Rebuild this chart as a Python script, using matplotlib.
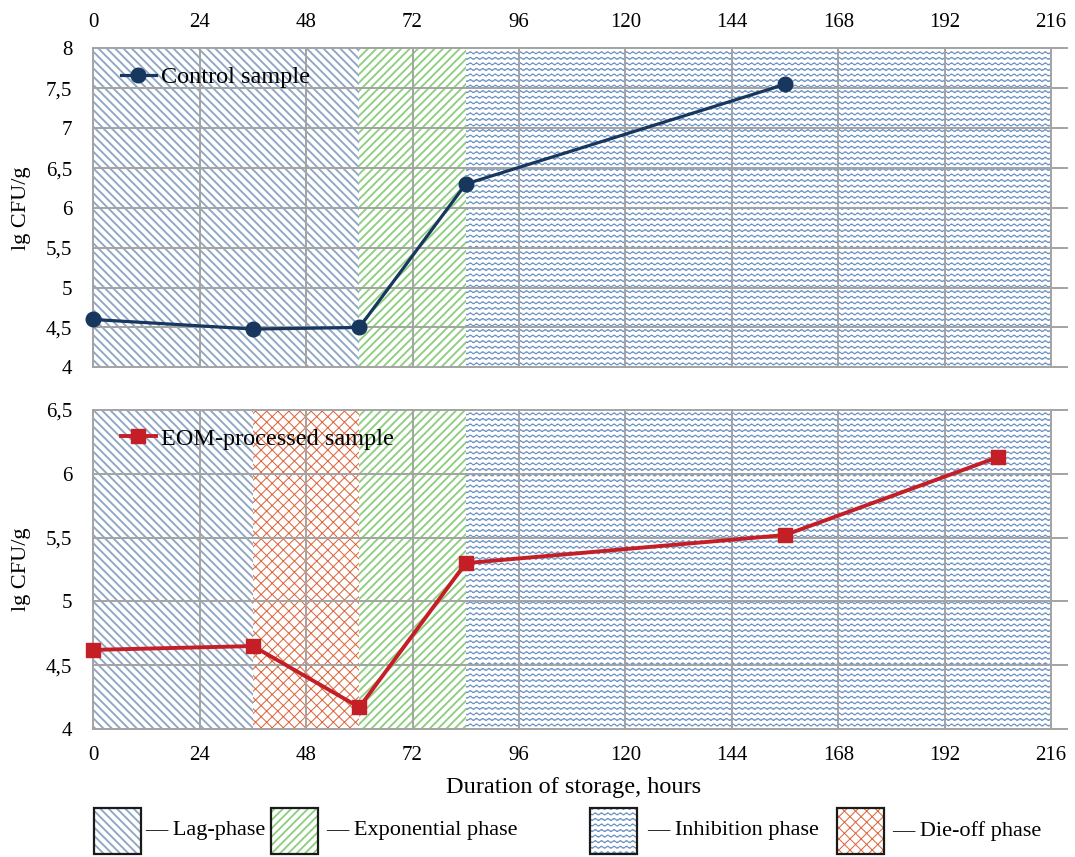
import numpy as np
import matplotlib
matplotlib.use("Agg")
import matplotlib.pyplot as plt
import matplotlib.hatch as mhatch
from matplotlib.path import Path
from matplotlib import ticker
from matplotlib.patches import Rectangle

# ---------------- data ----------------
hours_control = [0, 36, 60, 84, 156]
cfu_control = [4.60, 4.48, 4.50, 6.30, 7.55]

hours_eom = [0, 36, 60, 84, 156, 204]
cfu_eom = [4.62, 4.65, 4.17, 5.30, 5.52, 6.13]

phase_names = ["Lag-phase", "Exponential phase", "Inhibition phase", "Die-off phase"]
top_phase_kind = ["lag", "exp", "inh"]
top_phase_start = [0, 60, 84]
top_phase_end = [60, 84, 216]
bot_phase_kind = ["lag", "die", "exp", "inh"]
bot_phase_start = [0, 36, 60, 84]
bot_phase_end = [36, 60, 84, 216]

x_ticks = list(range(0, 217, 24))
top_yticks = [4, 4.5, 5, 5.5, 6, 6.5, 7, 7.5, 8]
bot_yticks = [4, 4.5, 5, 5.5, 6, 6.5]

# ---------------- custom wavy hatch (replaces 'o') ----------------
class WaveHatch(mhatch.HatchPatternBase):
    def __init__(self, hatch, density):
        self.num_rows = int(hatch.count('o') * density)
        self.periods = 16
        self.pts = self.periods * 8 + 1
        self.num_vertices = self.num_rows * self.pts

    def set_vertices_and_codes(self, vertices, codes):
        xs = np.linspace(0, 1, self.pts)
        ys = 0.0105 * np.sin(2 * np.pi * self.periods * xs)
        for i in range(self.num_rows):
            y0 = (i + 0.5) / self.num_rows
            s = slice(i * self.pts, (i + 1) * self.pts)
            vertices[s, 0] = xs
            vertices[s, 1] = y0 + ys
            codes[s] = Path.LINETO
            codes[i * self.pts] = Path.MOVETO

mhatch._hatch_types[mhatch._hatch_types.index(mhatch.SmallCircles)] = WaveHatch

styles = {
    "lag": dict(hatch="\\" * 4, color="#8fa6c4", lw=1.35),
    "exp": dict(hatch="/" * 4, color="#8dcf7f", lw=1.35),
    "inh": dict(hatch="ooo", color="#6990c2", lw=0.75),
    "die": dict(hatch="xxx", color="#dc6a42", lw=0.75),
}

plt.rcParams['font.family'] = ['Liberation Serif', 'DejaVu Serif']
plt.rcParams['hatch.linewidth'] = 1.35
FS = 15
GRID = "#a3a3a3"

fig = plt.figure(figsize=(10.75, 8.57), dpi=100)
L, W = 93.3 / 1075, 973.3 / 1075
ax1 = fig.add_axes([L, (857 - 367.3) / 857, W, 318.8 / 857])
ax2 = fig.add_axes([L, (857 - 729) / 857, W, 319 / 857])


def add_span(ax, kind, x0, x1):
    st = styles[kind]
    with plt.rc_context({'hatch.linewidth': st["lw"]}):
        p = ax.axvspan(x0, x1, facecolor="white", edgecolor=st["color"],
                       hatch=st["hatch"], linewidth=0, zorder=0)
    return p


def setup(ax, yticks):
    ax.set_xlim(0, 219.5)
    ax.set_ylim(yticks[0], yticks[-1])
    for s in ax.spines.values():
        s.set_visible(False)
    ax.set_yticks(yticks)
    ax.yaxis.set_major_formatter(ticker.FuncFormatter(lambda v, p: f"{v:g}".replace('.', ',')))
    ax.set_xticks(x_ticks)
    ax.tick_params(length=0, labelsize=FS)
    ax.tick_params(axis='y', pad=15)
    for x in x_ticks:
        ax.axvline(x, color=GRID, lw=1.4, zorder=1, clip_on=False)
    for y in yticks:
        ax.axhline(y, color=GRID, lw=1.4, zorder=1, clip_on=False)
    ax.set_ylabel("lg CFU/g", fontsize=16)
    ax.yaxis.set_label_coords(-0.064, 0.5)


setup(ax1, top_yticks)
setup(ax2, bot_yticks)

for k, a, b in zip(top_phase_kind, top_phase_start, top_phase_end):
    add_span(ax1, k, a, b)
for k, a, b in zip(bot_phase_kind, bot_phase_start, bot_phase_end):
    add_span(ax2, k, a, b)

ax1.xaxis.tick_top()
ax1.tick_params(axis='x', pad=12)
ax2.tick_params(axis='x', pad=12)

ax1.plot(hours_control, cfu_control, color="#17375e", lw=2.3, marker="o",
         markersize=10.5, zorder=3, label="Control sample", clip_on=False)
ax2.plot(hours_eom, cfu_eom, color="#c41f27", lw=2.8, marker="s",
         markersize=10, zorder=3, label="EOM-processed sample", clip_on=False)

for ax in (ax1, ax2):
    ax.legend(loc="upper left", bbox_to_anchor=(0.013, 0.99), frameon=False,
              fontsize=17.5, handlelength=1.45, handletextpad=0.2,
              borderaxespad=0.2)

fig.text(574 / 1075, 1 - 787 / 857, "Duration of storage, hours",
         ha="center", va="center", fontsize=17.5)

# ---------------- phase legend ----------------
axl = fig.add_axes([0, 0, 1, 1], zorder=-1)
axl.set_xlim(0, 1075)
axl.set_ylim(857, 0)
axl.axis("off")
box_x = [94, 271, 590, 837]
text_x = [145, 326, 647, 892]
leg_kinds = ["lag", "exp", "inh", "die"]
for bx, tx, k, name in zip(box_x, text_x, leg_kinds, phase_names):
    st = styles[k]
    with plt.rc_context({'hatch.linewidth': st["lw"]}):
        axl.add_patch(Rectangle((bx, 808), 47, 46, facecolor="white",
                                edgecolor=st["color"], hatch=st["hatch"], linewidth=0))
    axl.add_patch(Rectangle((bx, 808), 47, 46, facecolor="none",
                            edgecolor="#1a1a1a", linewidth=1.6))
    axl.text(tx, 831, "\u2014 " + name, ha="left", va="center", fontsize=16)

fig.savefig("out.png", dpi=100)
